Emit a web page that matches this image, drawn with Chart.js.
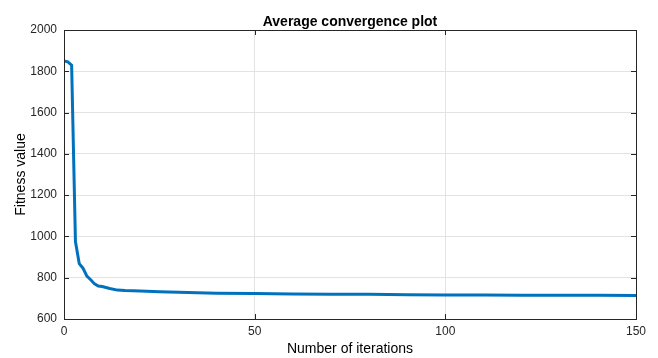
<!DOCTYPE html>
<html>
<head>
<meta charset="utf-8">
<script src="https://cdn.jsdelivr.net/npm/chart.js@4.4.1/dist/chart.umd.min.js"></script>
<style>
  html, body { margin: 0; padding: 0; background: #fff; }
  #wrap { width: 658px; height: 358px; }
</style>
</head>
<body>
<div id="wrap"><canvas id="grafik" width="658" height="358"></canvas></div>
<script>
const iterasi = [0, 1, 2, 3, 4, 5, 6, 7, 8, 9, 10, 12, 14, 16, 20, 25, 30, 40, 50, 60, 70, 80, 90, 100, 110, 120, 130, 140, 150];
const fitness = [1850, 1846, 1830, 975, 868, 845, 808, 790, 770, 760, 757, 748, 740, 738, 736, 732, 729, 725, 723, 721, 720, 720, 717, 716, 716, 715, 715, 715, 714];
const xTicks = [0, 50, 100, 150];
const yTicks = [600, 800, 1000, 1200, 1400, 1600, 1800, 2000];

const judul = "Average convergence plot";
const labelX = "Number of iterations";
const labelY = "Fitness value";

const warnaGaris = "#0072BD";
const warnaTeks = "#262626";

Chart.defaults.font.family = "'Liberation Sans', Arial, Helvetica, sans-serif";
Chart.defaults.color = warnaTeks;

// kotak sumbu + tick ke dalam ala MATLAB
const kotakMatlab = {
  id: "kotakMatlab",
  afterDraw(chart) {
    const { ctx, chartArea: a, scales } = chart;
    const len = 5;
    ctx.save();
    ctx.strokeStyle = warnaTeks;
    ctx.lineWidth = 1;
    ctx.beginPath();
    xTicks.forEach(v => {
      const px = Math.round(scales.x.getPixelForValue(v)) + 0.5;
      ctx.moveTo(px, a.bottom); ctx.lineTo(px, a.bottom - len);
      ctx.moveTo(px, a.top); ctx.lineTo(px, a.top + len);
    });
    yTicks.forEach(v => {
      const py = Math.round(scales.y.getPixelForValue(v)) + 0.5;
      ctx.moveTo(a.left, py); ctx.lineTo(a.left + len, py);
      ctx.moveTo(a.right, py); ctx.lineTo(a.right - len, py);
    });
    ctx.stroke();
    ctx.strokeRect(Math.round(a.left) + 0.5, Math.round(a.top) + 0.5,
      Math.round(a.right - a.left), Math.round(a.bottom - a.top));
    ctx.restore();
  }
};

new Chart(document.getElementById("grafik").getContext("2d"), {
  type: "line",
  data: {
    datasets: [{
      data: iterasi.map((x, i) => ({ x, y: fitness[i] })),
      borderColor: warnaGaris,
      borderWidth: 3,
      pointRadius: 0,
      tension: 0,
      fill: false
    }]
  },
  options: {
    responsive: false,
    animation: false,
    layout: { padding: { left: 0, right: 22, top: 0, bottom: 0 } },
    plugins: {
      legend: { display: false },
      tooltip: { enabled: false },
      title: {
        display: true,
        fullSize: false,
        text: judul,
        color: "#000",
        font: { size: 14, weight: "bold", lineHeight: 1 },
        padding: { top: 15, bottom: 1 }
      }
    },
    scales: {
      x: {
        type: "linear",
        min: 0,
        max: 150,
        afterBuildTicks: s => { s.ticks = xTicks.map(v => ({ value: v })); },
        afterFit: s => { s.height = 39; },
        ticks: { font: { size: 12 }, padding: 5, maxRotation: 0, callback: v => String(v) },
        grid: { color: "#e3e3e3", drawTicks: false },
        border: { display: false },
        title: { display: true, text: labelX, font: { size: 14 }, padding: { top: 2, bottom: 0 }, color: "#000" }
      },
      y: {
        min: 600,
        max: 2000,
        afterBuildTicks: s => { s.ticks = yTicks.map(v => ({ value: v })); },
        afterFit: s => { s.width = 64; },
        ticks: { font: { size: 12 }, padding: 7, callback: v => String(v) },
        grid: { color: "#e3e3e3", drawTicks: false },
        border: { display: false },
        title: { display: true, text: labelY, font: { size: 14 }, padding: { top: 13, bottom: 4 }, color: "#000" }
      }
    }
  },
  plugins: [kotakMatlab]
});
</script>
</body>
</html>
